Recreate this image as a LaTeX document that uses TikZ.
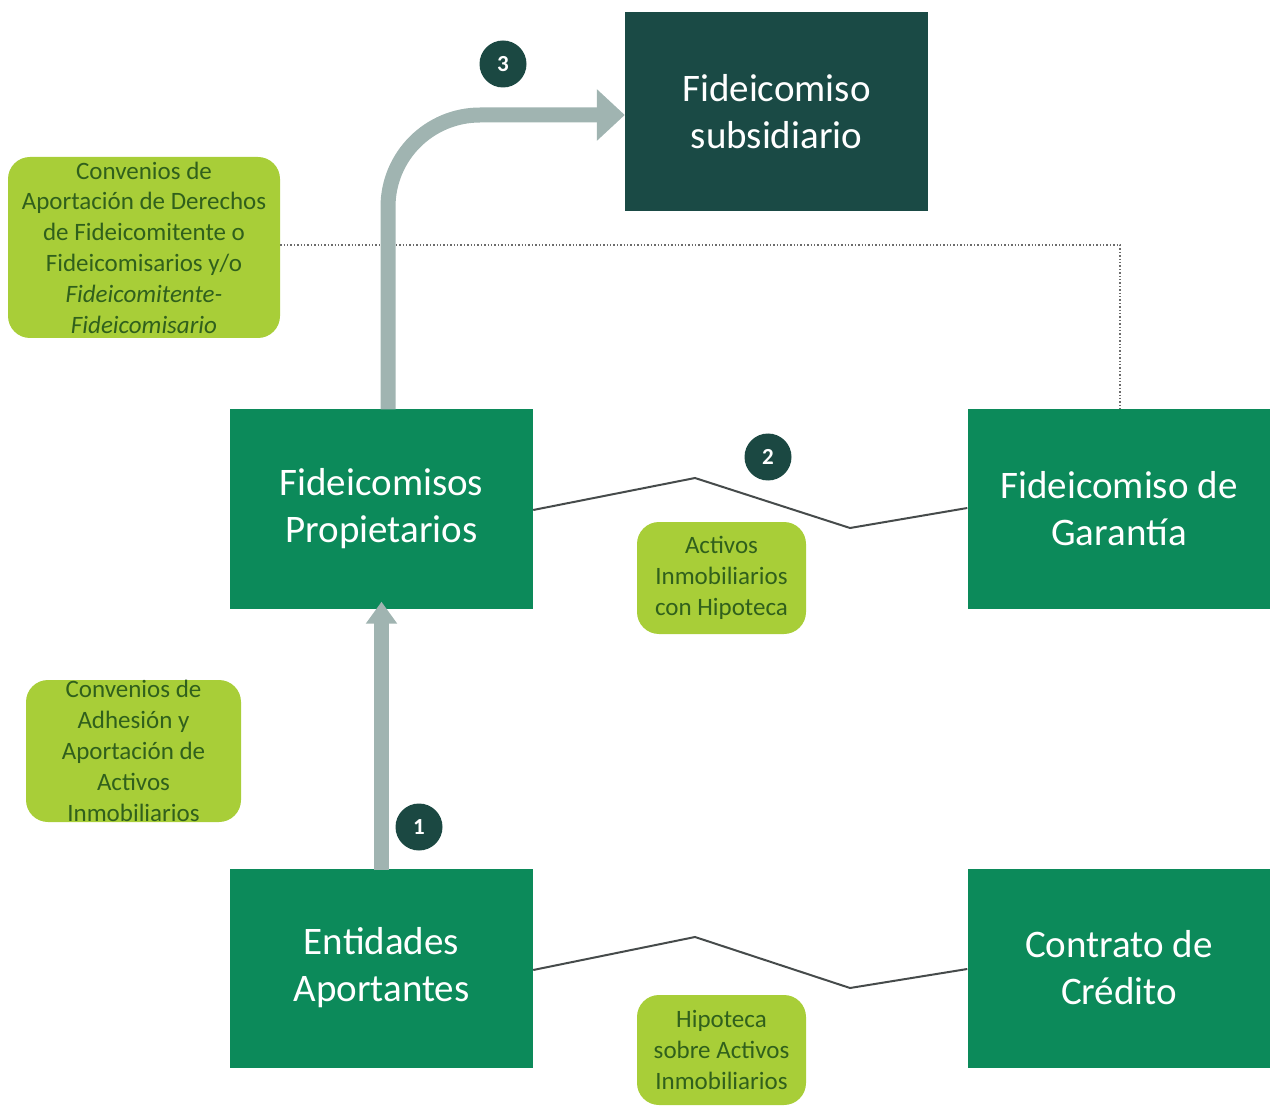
\documentclass[tikz,border=0pt]{standalone}
\usepackage{fontspec}
\setmainfont{Carlito}
\usetikzlibrary{arrows.meta}
\definecolor{boxgreen}{RGB}{12,138,90}
\definecolor{boxdark}{RGB}{26,74,69}
\definecolor{lblgreen}{RGB}{168,206,56}
\definecolor{lbltext}{RGB}{48,96,28}
\definecolor{arrowgray}{RGB}{160,180,177}
\definecolor{circdark}{RGB}{27,72,66}
\definecolor{linegray}{RGB}{70,75,75}
\tikzset{
  mainbox/.style={fill=boxgreen, text=white, minimum width=303pt, minimum height=199pt, inner sep=0pt, align=center, font=\fontsize{39}{47}\selectfont},
  darkbox/.style={mainbox, fill=boxdark},
  lbl/.style={fill=lblgreen, text=lbltext, rounded corners=22pt, inner sep=0pt, align=center, font=\fontsize{25}{30.8}\selectfont},
  numcirc/.style={circle, fill=circdark, text=white, minimum size=47pt, inner sep=0pt, font=\fontsize{23}{23}\bfseries\selectfont},
  zig/.style={draw=linegray, line width=2pt},
  bigarrow/.style={draw=arrowgray, line width=15pt},
}
\begin{document}
\begin{tikzpicture}[x=1pt,y=-1pt]
\useasboundingbox (0,0) rectangle (1270,1107);
% main boxes
\node[darkbox] (sub) at (776.5,112) {Fideicomiso\\subsidiario};
\node[mainbox] (prop) at (381.5,509) {Fideicomisos\\Propietarios};
\node[mainbox] (gar) at (1119,509) {Fideicomiso de\\Garantía};
\node[mainbox] (ent) at (381.5,968) {Entidades\\Aportantes};
\node[mainbox] (con) at (1119,968) {Contrato de\\Crédito};
% labels
\node[lbl, minimum width=272pt, minimum height=181pt] (l1) at (144,247.5) {Convenios de\\Aportación de Derechos\\de Fideicomitente o\\Fideicomisarios y/o\\\textit{Fideicomitente-}\\\textit{Fideicomisario}};
\node[lbl, minimum width=215pt, minimum height=142pt] (l2) at (133.5,751) {Convenios de\\Adhesión y\\Aportación de\\Activos\\Inmobiliarios};
\node[lbl, minimum width=169pt, minimum height=112pt] (l3) at (721.5,578) {Activos\\Inmobiliarios\\con Hipoteca};
\node[lbl, minimum width=169pt, minimum height=110pt] (l4) at (721.5,1050) {Hipoteca\\sobre Activos\\Inmobiliarios};
% numbered circles
\node[numcirc] (c3) at (503,64) {3};
\node[numcirc] (c2) at (768,457) {2};
\node[numcirc] (c1) at (419,827) {1};
% dotted connector
\coordinate (dc) at (1120,245);
\draw[dotted, draw=gray!85!black, line width=1.4pt] (l1.east |- dc) -- (dc) -- (gar.north -| dc);
% arrow 1
\draw[bigarrow, -{Triangle[length=22pt,width=30pt]}] ([yshift=-2pt]ent.north) -- ([yshift=7pt]prop.south);
% arrow 3
\draw[bigarrow, rounded corners=92pt, -{Triangle[length=28pt,width=50pt]}] ([xshift=6.5pt]prop.north) |- (sub.west |- 0,115);
% zigzag connectors
\coordinate (z1) at (695,478);
\coordinate (z2) at (850,528);
\draw[zig] ([yshift=-1pt]prop.east) -- (z1) -- (z2) -- ([yshift=1pt]gar.west);
\coordinate (z3) at (695,937);
\coordinate (z4) at (850,988);
\draw[zig] ([yshift=-2pt]ent.east) -- (z3) -- (z4) -- ([yshift=-1pt]con.west);
\end{tikzpicture}
\end{document}
